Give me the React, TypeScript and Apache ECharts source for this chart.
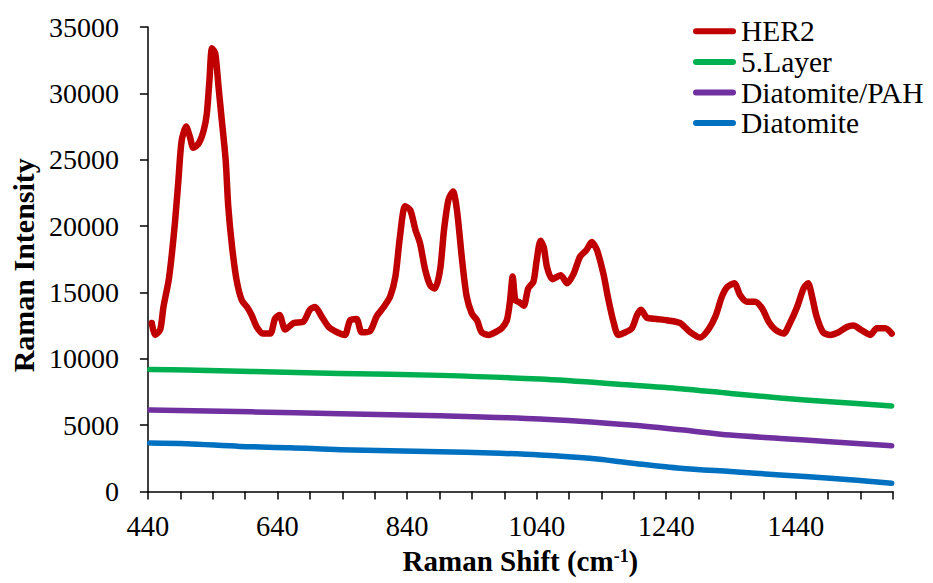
import React, { useEffect, useRef } from "react";
import * as echarts from "echarts";

const her2Shift = [446, 451, 459, 464, 472, 477, 482, 487, 492, 499, 505, 510, 518, 526, 531, 535, 539, 544, 549, 554, 560, 564, 570, 577, 585, 593, 600, 608, 618, 629, 636, 643, 652, 665, 680, 690, 698, 708, 719, 732, 744, 752, 762, 770, 783, 793, 804, 814, 822, 829, 837, 845, 853, 860, 868, 876, 883, 891, 897, 904, 911, 917, 925, 932, 940, 948, 955, 966, 976, 986, 994, 999, 1003, 1007, 1012, 1020, 1027, 1035, 1040, 1046, 1051, 1056, 1064, 1077, 1087, 1097, 1107, 1117, 1125, 1133, 1143, 1151, 1159, 1166, 1177, 1187, 1195, 1201, 1210, 1225, 1241, 1261, 1277, 1292, 1305, 1316, 1326, 1334, 1345, 1354, 1365, 1377, 1388, 1398, 1408, 1421, 1431, 1442, 1452, 1459, 1465, 1472, 1482, 1493, 1506, 1519, 1529, 1540, 1555, 1565, 1578, 1588];
const her2Intensity = [12700, 11800, 12200, 13900, 15900, 17900, 20400, 23400, 26400, 27500, 26700, 25900, 26200, 27200, 28500, 31000, 33400, 33000, 30500, 28000, 25000, 21500, 18400, 15900, 14400, 13900, 13300, 12400, 11900, 11900, 13000, 13300, 12200, 12700, 12800, 13700, 13900, 13200, 12400, 12000, 11800, 12900, 13000, 12000, 12100, 13200, 13900, 14700, 16200, 19200, 21500, 21200, 19700, 18700, 16700, 15500, 15300, 16700, 19700, 22000, 22600, 21200, 17400, 14700, 13400, 12900, 12000, 11800, 12000, 12300, 12900, 14400, 16200, 14400, 14300, 14000, 15300, 15800, 17400, 18900, 18400, 16900, 16000, 16300, 15700, 16400, 17700, 18200, 18800, 18200, 16400, 14400, 12700, 11800, 12000, 12300, 13300, 13700, 13100, 13000, 12900, 12700, 12000, 11600, 12200, 13200, 14700, 15400, 15700, 14800, 14300, 14300, 13800, 12800, 12200, 11900, 12700, 13900, 15300, 15700, 14700, 13200, 12000, 11800, 12000, 12400, 12500, 12200, 11800, 12300, 12300, 11900];

const layerShift = [443, 500, 600, 737, 891, 1045, 1185, 1262, 1339, 1416, 1493, 1588];
const layerIntensity = [9200, 9150, 9050, 8900, 8750, 8470, 8020, 7750, 7390, 7050, 6760, 6450];

const pahShift = [443, 600, 737, 891, 1045, 1185, 1262, 1339, 1416, 1493, 1588];
const pahIntensity = [6150, 6000, 5850, 5700, 5460, 5010, 4650, 4250, 4000, 3750, 3450];

const diaShift = [443, 500, 582, 660, 737, 891, 970, 1045, 1122, 1185, 1262, 1339, 1416, 1493, 1588];
const diaIntensity = [3650, 3600, 3400, 3300, 3150, 3000, 2900, 2750, 2500, 2150, 1750, 1500, 1250, 1000, 620];

const seriesNames = ["HER2", "5.Layer", "Diatomite/PAH", "Diatomite"];
const seriesColors = ["#C00000", "#00B050", "#7030A0", "#0070C0"];

const FONT = "Liberation Serif";

const zip = (xs: number[], ys: number[]) => xs.map((x, i) => [x, ys[i]]);

export default function App() {
  const ref = useRef<HTMLDivElement>(null);
  useEffect(() => {
    document.body.style.margin = "0";
    const chart = echarts.init(ref.current!, null, { renderer: "svg" });
    const datasets = [
      zip(her2Shift, her2Intensity),
      zip(layerShift, layerIntensity),
      zip(pahShift, pahIntensity),
      zip(diaShift, diaIntensity),
    ];
    chart.setOption({
      animation: false,
      backgroundColor: "#ffffff",
      textStyle: { fontFamily: FONT },
      grid: { left: 147, right: 40, top: 27, bottom: 91.5 },
      legend: {
        orient: "vertical",
        left: 688,
        top: 11,
        itemWidth: 43,
        itemHeight: 6,
        itemGap: 0,
        icon: "path://M3,0L40,0A3,3,0,0,1,40,6L3,6A3,3,0,0,1,3,0Z",
        textStyle: { fontFamily: FONT, fontSize: 29.5, color: "#000", lineHeight: 30.6 },
        data: seriesNames,
      },
      xAxis: {
        type: "value",
        min: 440,
        max: 1590,
        interval: 50,
        name: "Raman Shift (cm{sup|-1})",
        nameLocation: "middle",
        nameGap: 55,
        nameTextStyle: {
          fontFamily: FONT,
          fontSize: 29,
          fontWeight: "bold",
          color: "#000",
          rich: {
            sup: { fontFamily: FONT, fontSize: 18, fontWeight: "bold", color: "#000", verticalAlign: "top" },
          },
        },
        axisLine: { lineStyle: { color: "#000", width: 1.5 } },
        axisTick: { length: 8, lineStyle: { color: "#000", width: 1.5 } },
        axisLabel: {
          fontFamily: FONT,
          fontSize: 28.5,
          color: "#000",
          margin: 20,
          formatter: (v: number) => ((v - 440) % 200 === 0 ? String(v) : ""),
        },
        splitLine: { show: false },
      },
      yAxis: {
        type: "value",
        min: 0,
        max: 35000,
        interval: 5000,
        name: "Raman Intensity",
        nameLocation: "middle",
        nameGap: 108,
        nameRotate: 90,
        nameTextStyle: { fontFamily: FONT, fontSize: 30, fontWeight: "bold", color: "#000", padding: [0, 12, 0, 0] },
        axisLine: { show: true, lineStyle: { color: "#000", width: 1.5 } },
        axisTick: { show: true, length: 8, lineStyle: { color: "#000", width: 1.5 } },
        axisLabel: { fontFamily: FONT, fontSize: 28, color: "#000", margin: 29, formatter: (v: number) => String(v) },
        splitLine: { show: false },
      },
      series: seriesNames.map((name, i) => ({
        name,
        type: "line",
        data: datasets[i],
        showSymbol: false,
        symbol: "none",
        smooth: i === 0 ? 0.25 : 0.3,
        color: seriesColors[i],
        lineStyle: { width: i === 0 ? 6.5 : 5.5, color: seriesColors[i], cap: "round", join: "round" },
        z: 10 - i,
      })),
    });
    return () => chart.dispose();
  }, []);
  return <div ref={ref} style={{ width: 933, height: 583 }} />;
}
